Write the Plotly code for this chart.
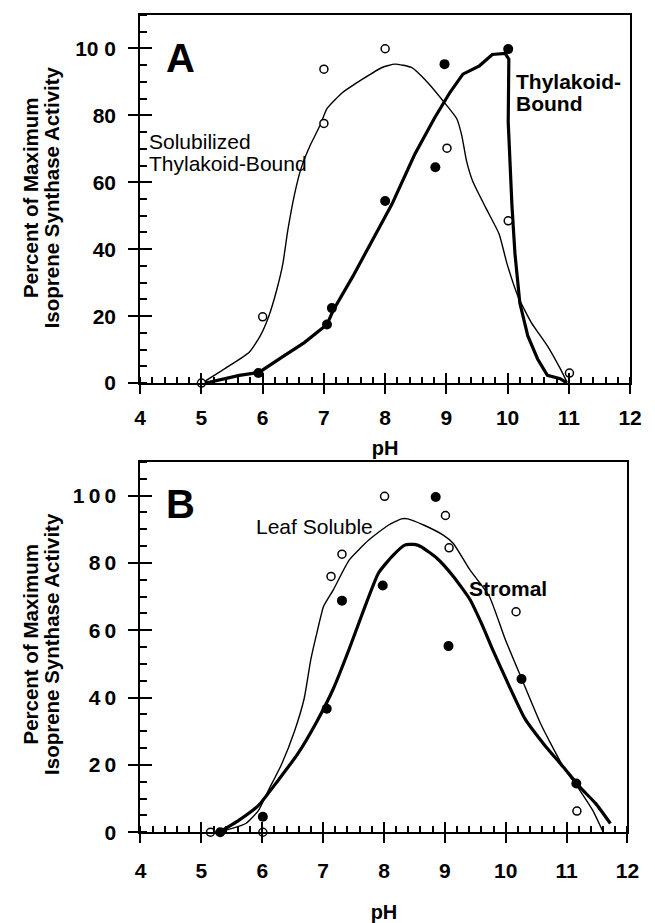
import plotly.graph_objects as go

# ---------------- Panel A data ----------------
A_sol_curve_ph = [5.01, 5.46, 5.78, 5.96, 6.10, 6.23, 6.33, 6.41, 6.52, 6.63, 6.78, 6.94, 7.05, 7.31, 7.63,
                  7.95, 8.16, 8.43, 8.69, 8.96, 9.17, 9.25, 9.33, 9.43, 9.64, 9.86, 9.99, 10.17, 10.39,
                  10.65, 10.86, 10.97]
A_sol_curve_val = [0, 5.2, 9.2, 14.1, 20, 27.9, 35.7, 45.6, 56.4, 64.3, 71.2, 77.1, 82, 86.9, 90.8,
                   94.3, 95.3, 94.3, 89.9, 84, 79, 74.1, 66.3, 60.3, 52.5, 44.6, 35.7, 25.9, 18,
                   11.1, 4.3, 0.3]
A_tb_curve_ph = [5.05, 5.14, 5.62, 5.94, 6.31, 6.68, 7.05, 7.16, 7.47, 7.79, 8.11, 8.48, 8.80, 9.06, 9.27,
                 9.54, 9.75, 9.96, 10.02, 10.01, 10.07, 10.12, 10.20, 10.33, 10.49, 10.65, 10.86, 10.97]
A_tb_curve_val = [0, 0.3, 2.3, 3.2, 7.7, 12.1, 17.5, 22, 31.8, 42.6, 53.4, 68.2, 79, 86.9, 92.3,
                  94.8, 98.2, 98.5, 96.8, 78, 53.4, 38.7, 23.9, 14.1, 7.2, 2.3, 1.3, 0]
A_open_ph = [5.0, 6.0, 7.0, 7.0, 8.0, 9.01, 10.01, 11.01]
A_open_val = [0, 19.8, 77.6, 93.8, 99.9, 70.2, 48.5, 3]
A_filled_ph = [5.93, 7.05, 7.13, 8.0, 8.82, 8.97, 10.01, 10.73]
A_filled_val = [3.0, 17.5, 22.4, 54.4, 64.5, 95.3, 99.8, -0.5]

# ---------------- Panel B data ----------------
B_leaf_curve_ph = [5.15, 5.31, 5.73, 5.94, 6.10, 6.32, 6.53, 6.69, 6.80, 6.90, 7.01, 7.17, 7.43, 7.75,
                   8.07, 8.29, 8.39, 8.66, 8.98, 9.14, 9.41, 9.73, 9.99, 10.26, 10.58, 10.95, 11.22,
                   11.43, 11.61]
B_leaf_curve_val = [0, 0.2, 2.6, 6.5, 12.4, 20.3, 30, 39.8, 51.5, 59.4, 67.2, 72.1, 80.9, 86.8,
                    91.2, 93.1, 93.1, 91.2, 88.2, 85.8, 78, 70.1, 57.4, 45.7, 32, 19.3, 12.4,
                    6.5, -0.3]
B_str_curve_ph = [5.31, 5.62, 5.94, 6.26, 6.58, 6.90, 7.17, 7.43, 7.65, 7.91, 8.13, 8.34, 8.50, 8.61,
                  8.87, 9.14, 9.41, 9.62, 9.78, 10.05, 10.31, 10.63, 10.95, 11.22, 11.48, 11.72]
B_str_curve_val = [0.2, 3.6, 8, 15.4, 23.2, 33, 42.7, 54.5, 65.2, 77, 81.9, 85.3, 85.5, 84.8,
                   81.4, 76, 69.2, 61.3, 54.5, 43.7, 33.9, 26.1, 19.3, 13.4, 8.5, 2.6]
B_open_ph = [5.15, 6.01, 7.13, 7.31, 8.01, 9.01, 9.07, 10.17, 11.17]
B_open_val = [0, 0, 76, 82.6, 99.8, 94.1, 84.5, 65.5, 6.3]
B_filled_ph = [5.31, 6.01, 7.06, 7.31, 7.98, 8.85, 9.06, 10.26, 11.16]
B_filled_val = [0, 4.6, 36.7, 68.8, 73.3, 99.6, 55.3, 45.5, 14.5]

# ---------------- Axis tick labels ----------------
y_tickvals = [0, 20, 40, 60, 80, 100]
A_y_ticktext = ["0", "20", "40", "60", "80", "10 0"]
B_y_ticktext = ["0", "2\u20090", "4\u20090", "6\u20090", "8\u20090", "1\u20090\u20090"]
x_tickvals = [4, 5, 6, 7, 8, 9, 10, 11, 12]
x_ticktext = ["4", "5", "6", "7", "8", "9", "10", "11", "12"]

W, H = 655, 923
FONT = "Liberation Sans, Arial, Helvetica, sans-serif"


def px(x):
    return x / W


def py(y):
    return 1 - y / H


fig = go.Figure()


def add_panel(xa, ya, thin_x, thin_y, thick_x, thick_y, open_x, open_y, fill_x, fill_y, thick_shape):
    common = dict(xaxis=xa, yaxis=ya, cliponaxis=False, showlegend=False, hoverinfo="skip")
    fig.add_trace(go.Scatter(x=thin_x, y=thin_y, mode="lines",
                             line=dict(color="black", width=1.4, shape="spline", smoothing=0.5), **common))
    fig.add_trace(go.Scatter(x=thick_x, y=thick_y, mode="lines",
                             line=dict(color="black", width=3.2, shape=thick_shape, smoothing=0.5), **common))
    fig.add_trace(go.Scatter(x=open_x, y=open_y, mode="markers",
                             marker=dict(symbol="circle", size=8, color="white",
                                         line=dict(color="black", width=1.5)), **common))
    fig.add_trace(go.Scatter(x=fill_x, y=fill_y, mode="markers",
                             marker=dict(symbol="circle", size=10, color="black",
                                         line=dict(color="black", width=0)), **common))


add_panel("x", "y", A_sol_curve_ph, A_sol_curve_val, A_tb_curve_ph, A_tb_curve_val,
          A_open_ph, A_open_val, A_filled_ph, A_filled_val, "linear")
add_panel("x2", "y2", B_leaf_curve_ph, B_leaf_curve_val, B_str_curve_ph, B_str_curve_val,
          B_open_ph, B_open_val, B_filled_ph, B_filled_val, "spline")

# empty traces so that the overlay (inside-tick) axes are drawn
fig.add_trace(go.Scatter(x=[], y=[], xaxis="x3", yaxis="y3", showlegend=False, hoverinfo="skip"))
fig.add_trace(go.Scatter(x=[], y=[], xaxis="x4", yaxis="y4", showlegend=False, hoverinfo="skip"))

tickfont = dict(family=FONT, size=21, color="black", weight="bold")


def main_x(domain, anchor, labelstand, standoff):
    return dict(domain=domain, anchor=anchor, range=[4, 12], tickmode="array",
                tickvals=x_tickvals, ticktext=x_ticktext, ticks="outside", ticklen=9, tickwidth=2,
                tickcolor="black", tickfont=tickfont, ticklabelstandoff=labelstand,
                showline=True, linewidth=2, linecolor="black", mirror=True,
                showgrid=False, zeroline=False,
                minor=dict(ticks="inside", ticklen=6, tickwidth=1.5, tickcolor="black",
                           tickmode="linear", tick0=4, dtick=0.2, showgrid=False),
                title=dict(text="pH", font=dict(family=FONT, size=20, color="black", weight="bold"),
                           standoff=standoff))


def main_y(domain, anchor, ticktext):
    return dict(domain=domain, anchor=anchor, range=[0, 110], tickmode="array",
                tickvals=y_tickvals, ticktext=ticktext, ticks="outside", ticklen=10, tickwidth=2,
                tickcolor="black", tickfont=tickfont, ticklabelstandoff=8,
                showline=True, linewidth=2, linecolor="black", mirror=True,
                showgrid=False, zeroline=False,
                minor=dict(ticks="inside", ticklen=7, tickwidth=1.5, tickcolor="black",
                           tickmode="linear", tick0=0, dtick=5, showgrid=False))


def over_x(base, anchor):
    return dict(overlaying=base, anchor=anchor, side="bottom", range=[4, 12], tickmode="array",
                tickvals=x_tickvals, ticks="inside", ticklen=10, tickwidth=2, tickcolor="black",
                showticklabels=False, showline=False, showgrid=False, zeroline=False)


def over_y(base, anchor):
    return dict(overlaying=base, anchor=anchor, side="left", range=[0, 110], tickmode="array",
                tickvals=y_tickvals, ticks="inside", ticklen=12, tickwidth=2, tickcolor="black",
                showticklabels=False, showline=False, showgrid=False, zeroline=False)


A_xdom = [px(138), px(641.7)]
A_ydom = [py(387.7), py(387.7 - 110 * 3.387)]
B_xdom = [px(138.3), px(639)]
B_ydom = [py(842.3), py(842.3 - 110 * 3.407)]

fig.update_layout(
    width=W, height=H, margin=dict(l=0, r=0, t=0, b=0),
    paper_bgcolor="white", plot_bgcolor="white", showlegend=False,
    font=dict(family=FONT, color="black"),
    xaxis=main_x(A_xdom, "y", 6, 13),
    yaxis=main_y(A_ydom, "x", A_y_ticktext),
    xaxis2=main_x(B_xdom, "y2", 10, 26),
    yaxis2=main_y(B_ydom, "x2", B_y_ticktext),
    xaxis3=over_x("x", "y3"),
    yaxis3=over_y("y", "x3"),
    xaxis4=over_x("x2", "y4"),
    yaxis4=over_y("y2", "x4"),
)


def note(text, x, y, size=20, bold=False, xanchor="left", angle=0):
    fig.add_annotation(text=text, x=px(x), y=py(y), xref="paper", yref="paper",
                       xanchor=xanchor, yanchor="middle", showarrow=False, textangle=angle,
                       font=dict(family=FONT, size=size, color="black",
                                 weight="bold" if bold else "normal"))


# panel letters
note("A", 179, 59, size=40, bold=True, xanchor="center")
note("B", 179, 510, size=40, bold=True, xanchor="center")
# curve labels
note("Solubilized", 145, 143, size=21)
note("Thylakoid-Bound", 145, 165, size=21)
note("Thylakoid-", 522, 82, size=21, bold=True)
note("Bound", 522, 105, size=21, bold=True)
note("Leaf Soluble", 255, 533, size=21)
note("Stromal", 474, 596, size=21, bold=True)
# y-axis titles
for yc in (200, 652):
    note("Percent of Maximum", 25, yc, size=20.5, bold=True, xanchor="center", angle=-90)
    note("Isoprene Synthase Activity", 47, yc, size=20.5, bold=True, xanchor="center", angle=-90)

fig.write_html("out.html")
